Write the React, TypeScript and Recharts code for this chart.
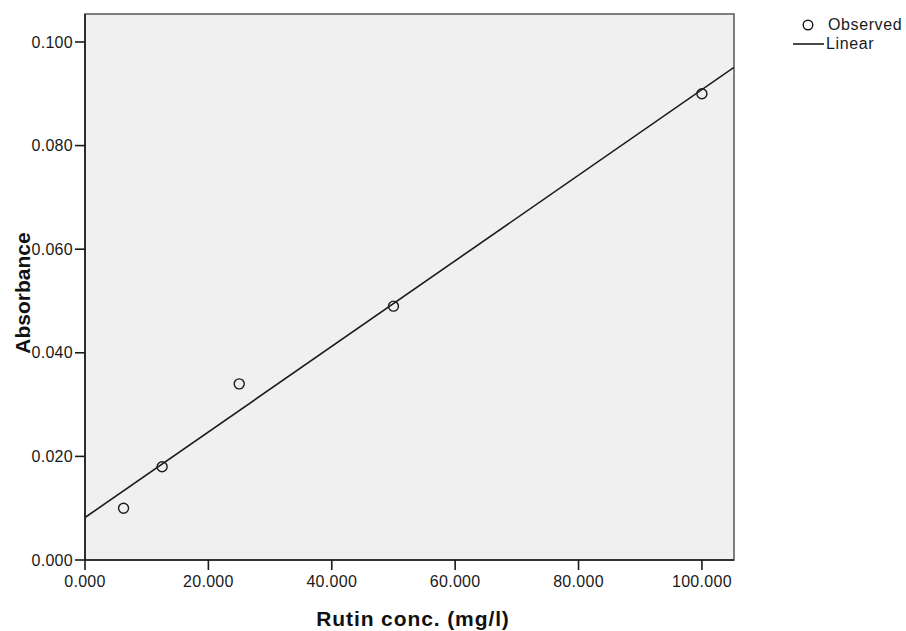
import React from 'react';
import {
  ComposedChart,
  Scatter,
  XAxis,
  YAxis,
  ReferenceArea,
  Label,
} from 'recharts';

// observed points
const concValues = [6.25, 12.5, 25, 50, 100];
const absorbValues = [0.01, 0.018, 0.034, 0.049, 0.09];

// fitted line ends, read at the plot edges
const fitX = [0, 105.2];
const fitY = [0.0082, 0.0951];

const xTicks = [0, 20, 40, 60, 80, 100];
const yTicks = [0, 0.02, 0.04, 0.06, 0.08, 0.1];

const legendItems = ['Observed', 'Linear'];

const observed = concValues.map((x, i) => ({ x, y: absorbValues[i] }));
const fitted = fitX.map((x, i) => ({ x, y: fitY[i] }));

const FONT = '"Liberation Sans", Arial, sans-serif';
const INK = '#1a1a1a';

const tickStyle = { fill: INK, fontSize: 16, fontFamily: FONT, letterSpacing: 0.3 };

// hollow circle marker
const OpenCircle = (props: any) => {
  const { cx, cy } = props;
  if (cx == null || cy == null) return <g />;
  return <circle cx={cx} cy={cy} r={5} fill="none" stroke={INK} strokeWidth={1.4} />;
};

const NoMark = () => <g />;

export default function App() {
  return (
    <div style={{ position: 'absolute', left: 0, top: 0, width: 906, height: 631, background: '#fff' }}>
      <ComposedChart
        width={906}
        height={631}
        margin={{ top: 14, right: 172, bottom: 0, left: 0 }}
      >
        <XAxis
          type="number"
          dataKey="x"
          domain={[0, 105.2]}
          ticks={xTicks}
          tickFormatter={(v: number) => v.toFixed(3)}
          height={71}
          tickSize={10}
          tickMargin={6}
          tick={tickStyle}
          axisLine={{ stroke: INK, strokeWidth: 1.6 }}
          tickLine={{ stroke: INK, strokeWidth: 1.6 }}
          allowDataOverflow
        >
          <Label
            content={() => (
              <text
                x={413}
                y={626}
                textAnchor="middle"
                fontFamily={FONT}
                fontWeight="bold"
                fontSize={21}
                letterSpacing={0.9}
                fill="#111"
              >
                Rutin conc. (mg/l)
              </text>
            )}
          />
        </XAxis>
        <YAxis
          type="number"
          dataKey="y"
          domain={[0, 0.1054]}
          ticks={yTicks}
          tickFormatter={(v: number) => v.toFixed(3)}
          width={85}
          tickSize={10}
          tickMargin={2}
          tick={tickStyle}
          axisLine={{ stroke: INK, strokeWidth: 1.6 }}
          tickLine={{ stroke: INK, strokeWidth: 1.6 }}
          allowDataOverflow
        >
          <Label
            content={() => (
              <text
                x={30}
                y={293}
                transform="rotate(-90, 30, 293)"
                textAnchor="middle"
                fontFamily={FONT}
                fontWeight="bold"
                fontSize={21}
                fill="#111"
              >
                Absorbance
              </text>
            )}
          />
        </YAxis>
        <ReferenceArea
          x1={0}
          x2={105.2}
          y1={0}
          y2={0.1054}
          fill="#f0f0f0"
          fillOpacity={1}
          stroke="#555"
          strokeWidth={1.5}
        />
        <Scatter
          name="Linear"
          data={fitted}
          line={{ stroke: INK, strokeWidth: 1.6 }}
          shape={NoMark}
          isAnimationActive={false}
        />
        <Scatter
          name="Observed"
          data={observed}
          shape={OpenCircle}
          isAnimationActive={false}
        />
      </ComposedChart>

      {/* legend, outside the plot on the right */}
      <div style={{ position: 'absolute', left: 790, top: 15, fontFamily: FONT, fontSize: 16, color: INK, letterSpacing: 0.6 }}>
        {legendItems.map((name, i) => (
          <div key={name} style={{ display: 'flex', alignItems: 'center', height: 19 }}>
            <svg width={36} height={19} style={{ display: 'block' }}>
              {i === 0 ? (
                <circle cx={18} cy={10} r={4.8} fill="none" stroke={INK} strokeWidth={1.4} />
              ) : (
                <line x1={3} y1={10} x2={34} y2={10} stroke={INK} strokeWidth={1.6} />
              )}
            </svg>
            <span style={{ marginLeft: i === 0 ? 2 : 0 }}>{name}</span>
          </div>
        ))}
      </div>
    </div>
  );
}
